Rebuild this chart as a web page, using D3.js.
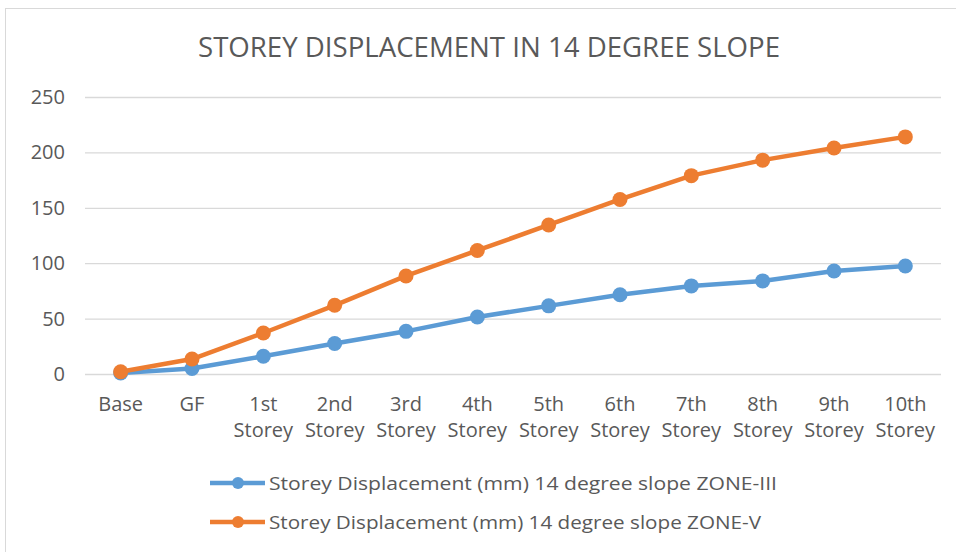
<!DOCTYPE html>
<html>
<head>
<meta charset="utf-8">
<script src="https://cdn.jsdelivr.net/npm/d3@7"></script>
<style>
  body { margin: 0; background: #fff; }
  svg { display: block; font-family: "Open Sans", sans-serif; }
</style>
</head>
<body>
<svg id="chart" width="956" height="552"></svg>
<script>
var categories = ['Base', 'GF', '1st Storey', '2nd Storey', '3rd Storey', '4th Storey', '5th Storey',
    '6th Storey', '7th Storey', '8th Storey', '9th Storey', '10th Storey'];
var zone3 = [1, 5, 16, 27.5, 38.5, 51.5, 61.5, 71.5, 79.5, 84, 93, 97.5];
var zone5 = [2, 13.5, 37, 62, 88.5, 111.5, 134.5, 157.5, 179, 193, 204, 214];
var yTicks = [0, 50, 100, 150, 200, 250];
var seriesNames = [
    'Storey Displacement (mm) 14 degree slope ZONE-III',
    'Storey Displacement (mm) 14 degree slope ZONE-V'
];
var seriesColors = ['#5b9bd5', '#ed7d31'];
var title = 'STOREY DISPLACEMENT IN 14 DEGREE SLOPE';

var svg = d3.select('#chart');
var margin = { top: 97, right: 15, bottom: 178, left: 85 }
    , width = 956 - margin.left - margin.right
    , height = 552 - margin.top - margin.bottom;

// chart frame
svg.append('rect')
    .attr('x', 5.5).attr('y', 8.5)
    .attr('width', 1000).attr('height', 600)
    .attr('fill', 'none')
    .attr('stroke', '#d9d9d9');

svg.append('text')
    .attr('x', 489).attr('y', 57)
    .attr('text-anchor', 'middle')
    .attr('fill', '#595959')
    .attr('font-size', 27)
    .attr('textLength', 582)
    .attr('lengthAdjust', 'spacingAndGlyphs')
    .text(title);

var g = svg.append('g')
    .attr('transform', `translate(${margin.left},${margin.top})`);

var xScale = d3.scaleBand()
    .domain(categories)
    .range([0, width]);

var yScale = d3.scaleLinear()
    .domain([0, 250])
    .range([height, 0]);

// gridlines + y labels
var yAxis = g.append('g')
    .call(d3.axisLeft(yScale).tickValues(yTicks).tickSize(-width).tickPadding(20));
yAxis.select('.domain').remove();
yAxis.selectAll('line').attr('stroke', '#d9d9d9').attr('stroke-width', 1.3);
yAxis.selectAll('text')
    .attr('fill', '#595959')
    .attr('font-size', 20)
    .attr('font-family', '"Open Sans", sans-serif');

// x labels
var xAxis = g.append('g')
    .attr('transform', `translate(0,${height})`)
    .call(d3.axisBottom(xScale).tickSize(0).tickPadding(0));
xAxis.select('.domain').remove();
xAxis.selectAll('text').each(function (d) {
    var t = d3.select(this).text('')
        .attr('fill', '#595959')
        .attr('font-size', 20)
        .attr('font-family', '"Open Sans", sans-serif')
        .attr('dy', null)
        .attr('y', 37);
    d.split(' ').forEach((w, i) => {
        t.append('tspan').attr('x', 0).attr('dy', i === 0 ? 0 : 26).text(w);
    });
});

// lines
var line = d3.line()
    .x((d, i) => xScale(categories[i]) + xScale.bandwidth() / 2)
    .y(d => yScale(d));

[zone3, zone5].forEach((s, k) => {
    g.append('path')
        .datum(s)
        .attr('fill', 'none')
        .attr('stroke', seriesColors[k])
        .attr('stroke-width', 4.5)
        .attr('stroke-linejoin', 'round')
        .attr('d', line);
    g.selectAll(null)
        .data(s)
        .enter()
        .append('circle')
        .attr('cx', (d, i) => xScale(categories[i]) + xScale.bandwidth() / 2)
        .attr('cy', d => yScale(d))
        .attr('r', 7.5)
        .attr('fill', seriesColors[k]);
});

// legend
var legend = svg.append('g').attr('transform', 'translate(210,0)');
var legendY = [483, 522];
seriesNames.forEach((name, k) => {
    var row = legend.append('g').attr('transform', `translate(0,${legendY[k]})`);
    row.append('line')
        .attr('x1', 0).attr('x2', 55)
        .attr('stroke', seriesColors[k])
        .attr('stroke-width', 4.5);
    row.append('circle')
        .attr('cx', 28).attr('r', 6)
        .attr('fill', seriesColors[k]);
    row.append('text')
        .attr('x', 59).attr('y', 7)
        .attr('fill', '#595959')
        .attr('font-size', 19)
        .attr('textLength', k === 0 ? 508 : 492)
        .attr('lengthAdjust', 'spacingAndGlyphs')
        .text(name);
});
</script>
</body>
</html>
